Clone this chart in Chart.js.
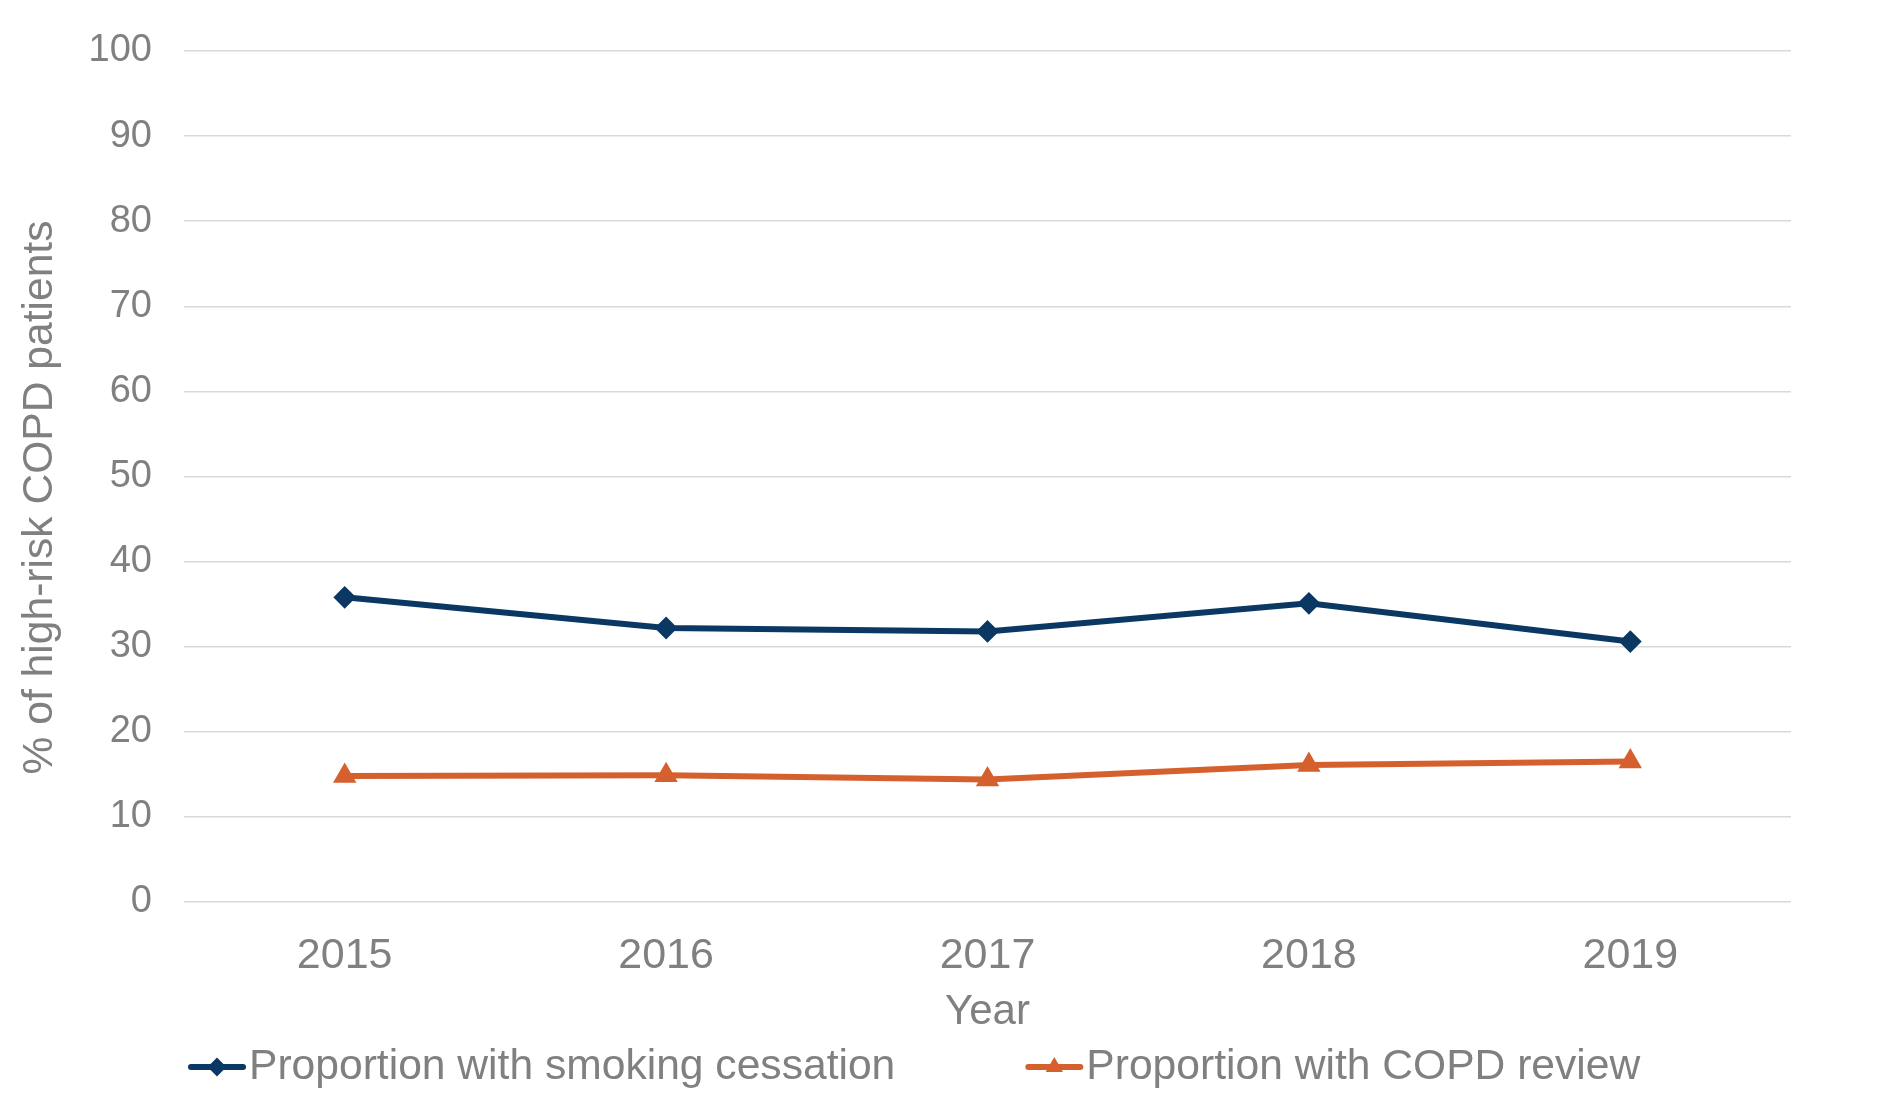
<!DOCTYPE html>
<html>
<head>
<meta charset="utf-8">
<script src="https://cdn.jsdelivr.net/npm/chart.js@4.4.1/dist/chart.umd.min.js"></script>
<style>
  html, body { margin: 0; padding: 0; background: #ffffff; overflow: hidden; }
  #wrap { width: 1891px; height: 1098px; position: relative; }
</style>
</head>
<body>
<div id="wrap"><canvas id="chart" width="1891" height="1098"></canvas></div>
<script>
// Years on the category axis
const years = ['2015', '2016', '2017', '2018', '2019'];
// % of high-risk COPD patients receiving smoking cessation support
const smokingCessation = [35.8, 32.2, 31.8, 35.1, 30.6];
// % of high-risk COPD patients with a COPD review
const copdReview = [14.8, 14.9, 14.4, 16.1, 16.5];
const seriesLabels = ['Proportion with smoking cessation', 'Proportion with COPD review'];
const yAxisTitle = '% of high-risk COPD patients';
const xAxisTitle = 'Year';

const FONT = '"Liberation Sans", Arial, Helvetica, sans-serif';
const TEXT = '#808080';
const NAVY = '#0b3863';
const ORANGE = '#d5602e';

// Vertical axis title, centred a little below the middle of the plot area
const yTitle = {
  id: 'yTitle',
  afterDraw(chart) {
    const ctx = chart.ctx;
    const a = chart.chartArea;
    ctx.save();
    ctx.translate(40, (a.top + a.bottom) / 2 + 21);
    ctx.rotate(-Math.PI / 2);
    ctx.font = '42.6px ' + FONT;
    ctx.fillStyle = TEXT;
    ctx.textAlign = 'center';
    ctx.textBaseline = 'middle';
    ctx.fillText(yAxisTitle, 0, 0);
    ctx.restore();
  }
};

// Legend drawn as line + marker samples, laid out left to right under the axis title
const lineLegend = {
  id: 'lineLegend',
  afterDraw(chart) {
    const ctx = chart.ctx;
    const y = chart.height - 31;
    let x = chart.chartArea.left + 7;
    ctx.save();
    ctx.font = '42.6px ' + FONT;
    ctx.textBaseline = 'middle';
    ctx.textAlign = 'left';
    chart.data.datasets.forEach(ds => {
      ctx.strokeStyle = ds.borderColor;
      ctx.lineWidth = 6;
      ctx.lineCap = 'round';
      ctx.beginPath();
      ctx.moveTo(x, y);
      ctx.lineTo(x + 52, y);
      ctx.stroke();
      ctx.fillStyle = ds.pointBackgroundColor;
      ctx.strokeStyle = ds.pointBorderColor;
      ctx.lineWidth = 2;
      Chart.helpers.drawPoint(ctx, { pointStyle: ds.pointStyle, radius: 8, borderWidth: 2, rotation: 0 }, x + 26, y);
      ctx.fillStyle = TEXT;
      ctx.fillText(ds.label, x + 58, y);
      x += 58 + ctx.measureText(ds.label).width + 133;
    });
    ctx.restore();
  }
};

new Chart(document.getElementById('chart'), {
  type: 'line',
  data: {
    labels: years,
    datasets: [
      {
        label: seriesLabels[0],
        data: smokingCessation,
        borderColor: NAVY,
        backgroundColor: NAVY,
        pointBackgroundColor: NAVY,
        pointBorderColor: NAVY,
        borderWidth: 6,
        pointStyle: 'rectRot',
        pointRadius: 10,
        pointBorderWidth: 2,
        tension: 0,
        fill: false
      },
      {
        label: seriesLabels[1],
        data: copdReview,
        borderColor: ORANGE,
        backgroundColor: ORANGE,
        pointBackgroundColor: ORANGE,
        pointBorderColor: ORANGE,
        borderWidth: 6,
        pointStyle: 'triangle',
        pointRadius: 11.5,
        pointBorderWidth: 2,
        tension: 0,
        fill: false
      }
    ]
  },
  options: {
    responsive: false,
    animation: false,
    layout: { padding: { left: 11, top: 51, right: 100, bottom: 60 } },
    plugins: {
      legend: { display: false },
      tooltip: { enabled: false },
      title: { display: false }
    },
    scales: {
      x: {
        type: 'category',
        offset: true,
        grid: { display: false, drawTicks: false },
        border: { display: false },
        ticks: { color: TEXT, font: { family: FONT, size: 43 }, padding: 28, maxRotation: 0 },
        title: { display: true, text: xAxisTitle, color: TEXT, font: { family: FONT, size: 42 }, padding: { top: 4, bottom: 0 } },
        afterFit(scale) { scale.height = 136; }
      },
      y: {
        min: 0,
        max: 100,
        grid: { color: '#d9d9d9', lineWidth: 1.5, drawTicks: false },
        border: { display: false },
        ticks: { stepSize: 10, color: TEXT, font: { family: FONT, size: 38 }, padding: 32 },
        title: { display: false },
        afterFit(scale) {
          scale.width = 173;
          scale.paddingTop = 0;
          scale.paddingBottom = 0;
        }
      }
    }
  },
  plugins: [yTitle, lineLegend]
});
</script>
</body>
</html>
